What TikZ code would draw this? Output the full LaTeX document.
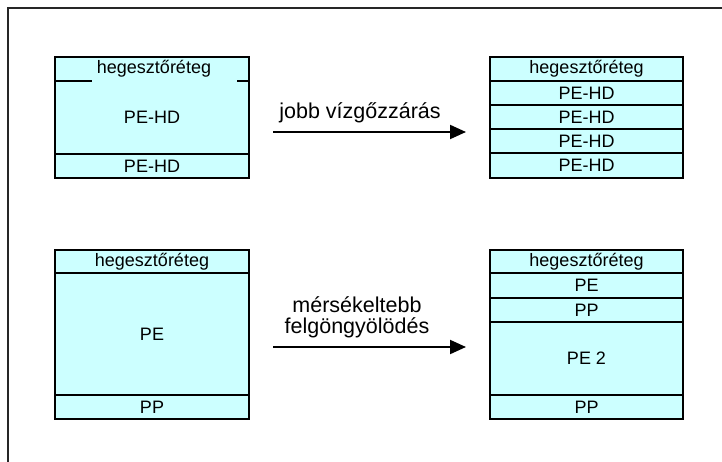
\documentclass[tikz,border=0pt]{standalone}
\usepackage{fontspec}
\setmainfont{Liberation Sans}
\usetikzlibrary{arrows.meta}
\definecolor{layerfill}{RGB}{204,255,255}
\begin{document}
\begin{tikzpicture}[x=1pt,y=-1pt,
  layer/.style={draw=black, line width=2pt, fill=layerfill, inner sep=0pt,
    font=\fontsize{18}{20}\selectfont},
  wl/.style={layer, minimum width=194pt},
  wr/.style={layer, minimum width=193pt},
  lbl/.style={inner sep=0pt, font=\fontsize{18}{20}\selectfont},
  arrlbl/.style={inner sep=0pt, font=\fontsize{21.5}{23}\selectfont, align=center},
  arr/.style={line width=2pt, -{Triangle[length=16pt,width=14pt]}},
  frame/.style={line width=2pt, draw=black!85}]
\useasboundingbox (0,0) rectangle (722,462);
\draw[frame] (7.5,462) -- (7.5,8.5) -- (722,8.5);

% top left
\node[wl, minimum height=24pt] (tl1) at (152,69) {};
\node[wl, minimum height=73pt] (tl2) at (152,117.5) {PE-HD};
\node[wl, minimum height=24pt] (tl3) at (152,166) {PE-HD};
\fill[layerfill] (92,58.5) rectangle (237,83.5);
\node[lbl] (tl1t) at (154,69) {hegesztőréteg};

% top right
\node[wr, minimum height=24pt] (tr1) at (586.5,69) {hegesztőréteg};
\node[wr, minimum height=24pt] (tr2) at (586.5,93) {PE-HD};
\node[wr, minimum height=24pt] (tr3) at (586.5,117) {PE-HD};
\node[wr, minimum height=24pt] (tr4) at (586.5,141) {PE-HD};
\node[wr, minimum height=25pt] (tr5) at (586.5,165.5) {PE-HD};

% bottom left
\node[wl, minimum height=23pt] (bl1) at (152,261.5) {hegesztőréteg};
\node[wl, minimum height=122pt] (bl2) at (152,334) {PE};
\node[wl, minimum height=24pt] (bl3) at (152,407) {PP};

% bottom right
\node[wr, minimum height=23pt] (br1) at (586.5,261.5) {hegesztőréteg};
\node[wr, minimum height=25pt] (br2) at (586.5,285.5) {PE};
\node[wr, minimum height=24pt] (br3) at (586.5,310) {PP};
\node[wr, minimum height=73pt] (br4) at (586.5,358.5) {PE 2};
\node[wr, minimum height=24pt] (br5) at (586.5,407) {PP};

% arrows
\coordinate (a1s) at (273,132);
\coordinate (a1e) at (466,132);
\draw[arr] (a1s) -- (a1e);
\node[arrlbl] (a1t) at (360,113) {jobb vízgőzzárás};

\coordinate (a2s) at (273,347);
\coordinate (a2e) at (466,347);
\draw[arr] (a2s) -- (a2e);
\node[arrlbl] (a2t1) at (357,305) {mérsékeltebb};
\node[arrlbl] (a2t2) at (357,328) {felgöngyölödés};
\end{tikzpicture}
\end{document}
